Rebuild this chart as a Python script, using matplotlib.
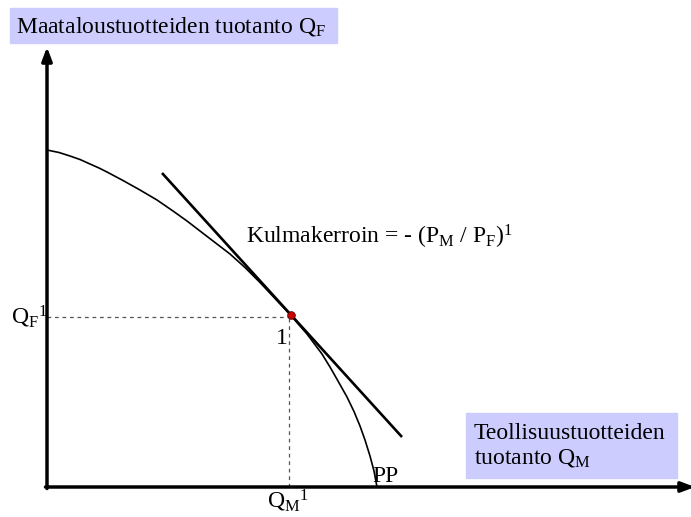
import matplotlib.pyplot as plt
from matplotlib.patches import Rectangle

plt.rcParams['font.family'] = 'Liberation Serif'
plt.rcParams['mathtext.fontset'] = 'custom'
plt.rcParams['mathtext.rm'] = 'Liberation Serif'
plt.rcParams['mathtext.it'] = 'Liberation Serif:italic'

# production possibility frontier (PP), units
pp_qm = [0, 12, 23, 33, 43, 52, 60, 76, 93, 110, 126, 140, 153, 168, 183,
         198, 213, 228, 244, 253, 260, 266, 275, 283, 291, 300, 307, 313,
         318, 323, 327, 330]
pp_qf = [337, 334.5, 331, 327.5, 323, 319, 315, 306.5, 297, 287, 276, 266,
         256, 244.5, 233, 219.5, 204.5, 188.5, 171.5, 161, 153, 145, 133,
         120, 106, 90, 75.5, 61, 47, 31, 16, 0]

# price line, slope -(PM/PF)
tan_qm = [115, 355]
tan_qf = [314, 50]

# optimum point 1
qm1 = 242
qf1 = 170

x_max = 648
y_max = 440

BOX = '#ccccff'

fig = plt.figure(figsize=(6.91, 5.17), dpi=100)
ax = fig.add_axes([0, 0, 1, 1])
ax.set_xlim(-47, 644)
ax.set_ylim(-30, 487)
ax.axis('off')

# axes with arrows
arrow = dict(arrowstyle='-|>,head_length=0.8,head_width=0.3',
             lw=2.5, color='black', shrinkA=0, shrinkB=0)
ax.annotate('', xy=(0, y_max), xytext=(0, -1.5), arrowprops=arrow,
            annotation_clip=False)
ax.annotate('', xy=(x_max, 0), xytext=(-1.5, 0), arrowprops=arrow,
            annotation_clip=False)

# dashed guides
ax.plot([0, qm1], [qf1, qf1], ls=(0, (3, 3)), color='#555555', lw=0.9)
ax.plot([qm1, qm1], [0, qf1], ls=(0, (3, 3)), color='#555555', lw=0.9)

ax.plot(pp_qm, pp_qf, color='black', lw=1.2, solid_joinstyle='round')
ax.plot(tan_qm, tan_qf, color='black', lw=1.9, solid_capstyle='butt')
ax.plot([qm1 + 2], [qf1 + 2], 'o', ms=5.5, color='#cc0000', mec='#550000', mew=0.6)

# labels
fs = 17
ax.add_patch(Rectangle((-37, 444), 327, 35, color=BOX, zorder=0))
ax.text(-31, 460, r'Maataloustuotteiden tuotanto Q$_\mathrm{F}$',
        fontsize=fs, va='center', ha='left')

ax.add_patch(Rectangle((419, 9), 211, 65, color=BOX, zorder=0))
ax.text(427, 41, 'Teollisuustuotteiden\n' + r'tuotanto Q$_\mathrm{M}$',
        fontsize=fs, va='center', ha='left', linespacing=1.2)

ax.text(199, 250, r'Kulmakerroin = - (P$_\mathrm{M}$ / P$_\mathrm{F}$)$^1$',
        fontsize=fs, va='center', ha='left')
ax.text(-36, 170, r'Q$_\mathrm{F}$$^1$', fontsize=fs, va='center', ha='left')
ax.text(229, 149, '1', fontsize=fs, va='center', ha='left')
ax.text(325, 10, 'PP', fontsize=fs, va='center', ha='left')
ax.text(241, -14, r'Q$_\mathrm{M}$$^1$', fontsize=fs, va='center', ha='center')

fig.savefig('out.png', dpi=100)
